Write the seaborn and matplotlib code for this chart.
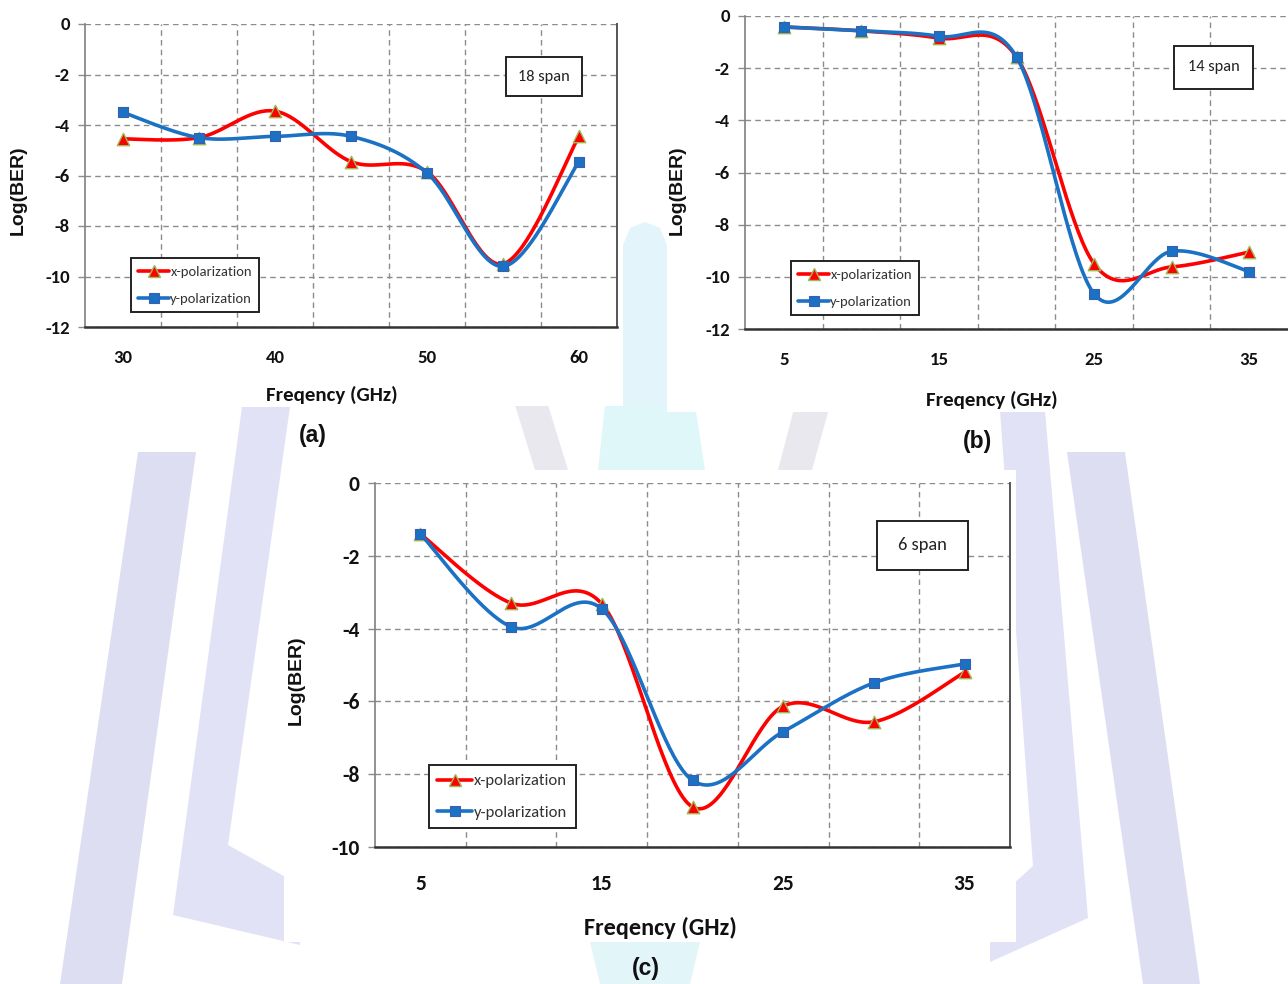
import numpy as np
import pandas as pd
import seaborn as sns
import matplotlib.pyplot as plt
from matplotlib.lines import Line2D
from matplotlib.patches import Rectangle, Polygon

# ---- data ----
freq_a = [30, 35, 40, 45, 50, 55, 60]
xpol_a = [-4.55, -4.5, -3.45, -5.45, -5.85, -9.5, -4.45]
ypol_a = [-3.5, -4.5, -4.45, -4.45, -5.9, -9.6, -5.45]

freq_b = [5, 10, 15, 20, 25, 30, 35]
xpol_b = [-0.42, -0.57, -0.85, -1.57, -9.5, -9.62, -9.05]
ypol_b = [-0.42, -0.57, -0.78, -1.57, -10.65, -9.02, -9.8]

freq_c = [5, 10, 15, 20, 25, 30, 35]
xpol_c = [-1.4, -3.3, -3.32, -8.9, -6.13, -6.56, -5.2]
ypol_c = [-1.4, -3.95, -3.46, -8.17, -6.83, -5.49, -4.97]

xticks_a = [30, 40, 50, 60]
xticks_bc = [5, 15, 25, 35]
yticks_ab = [0, -2, -4, -6, -8, -10, -12]
yticks_c = [0, -2, -4, -6, -8, -10]
span_labels = ["18 span", "14 span", "6 span"]
series_names = ["x-polarization", "y-polarization"]

RED = "#ff0000"
OLIVE = "#9bbb59"
BLUE = "#1b72c4"
BLUE_EDGE = "#3a5fb0"
GRID = "#8c8c8c"

NARROW = ["Carlito", "DejaVu Sans"]
ARIAL = ["Liberation Sans", "DejaVu Sans"]

W, H = 1288, 984

sns.set_theme(style="white")
plt.rcParams["axes.unicode_minus"] = False
plt.rcParams["font.family"] = ARIAL


def excel_smooth(xs, ys, n=40):
    """Bezier smoothing like Excel's 'smoothed line' option."""
    p = np.column_stack([xs, ys]).astype(float)
    ext = np.vstack([p[0], p, p[-1]])
    out = []
    t = np.linspace(0, 1, n)[:, None]
    for i in range(len(p) - 1):
        p0, p1, p2, p3 = ext[i], ext[i + 1], ext[i + 2], ext[i + 3]
        c1 = p1 + (p2 - p0) / 6
        c2 = p2 - (p3 - p1) / 6
        seg = (1 - t) ** 3 * p1 + 3 * (1 - t) ** 2 * t * c1 + 3 * (1 - t) * t ** 2 * c2 + t ** 3 * p2
        out.append(seg if i == 0 else seg[1:])
    s = np.vstack(out)
    return pd.DataFrame({"f": s[:, 0], "v": s[:, 1]})


fig = plt.figure(figsize=(W / 100, H / 100), dpi=100)
fig.patch.set_facecolor("white")


def px_poly(pts, color, z=-10):
    xy = [(x / W, 1 - y / H) for x, y in pts]
    fig.patches.append(Polygon(xy, closed=True, transform=fig.transFigure,
                               facecolor=color, edgecolor="none", zorder=z))


# faint watermark behind the panels
LAV = "#dedef2"
px_poly([(138, 452), (196, 452), (122, 984), (60, 984)], LAV)
px_poly([(242, 407), (290, 407), (228, 845), (300, 885), (300, 945), (173, 915)], "#e2e2f7")
px_poly([(1067, 452), (1125, 452), (1200, 984), (1143, 984)], LAV)
px_poly([(1000, 411), (1045, 411), (1088, 918), (990, 962), (990, 905), (1033, 866)], "#e2e2f7")
px_poly([(623, 245), (630, 228), (645, 222), (660, 228), (667, 245), (667, 412), (623, 412)], "#e3f5fb")
px_poly([(605, 405), (695, 405), (705, 470), (598, 470)], "#e0f7fa")
px_poly([(515, 405), (548, 405), (568, 470), (535, 470)], "#e8e8ee")
px_poly([(795, 405), (830, 405), (812, 470), (778, 470)], "#e8e8ee")
px_poly([(590, 942), (700, 942), (690, 984), (600, 984)], "#e2f6f9")

# white panels
px_poly([(0, 0), (623, 0), (623, 406), (0, 406)], "white", z=-5)
px_poly([(667, 0), (1288, 0), (1288, 412), (667, 412)], "white", z=-5)
px_poly([(284, 470), (1016, 470), (1016, 942), (284, 942)], "white", z=-5)


def draw_panel(rect, freq, xpol, ypol, xlim, ylim, xticks, yticks, span, span_box,
               leg_anchor, fs_tick, fs_leg, fs_span, fs_xlab, xlab_pos, ylab_pos,
               right_spine=True):
    ax = fig.add_axes(rect)
    ax.set_facecolor("none")

    sns.lineplot(data=excel_smooth(freq, xpol), x="f", y="v", ax=ax, color=RED,
                 linewidth=2.6, sort=False, estimator=None, zorder=3)
    sns.scatterplot(x=freq, y=xpol, ax=ax, marker="^", s=80, color=RED,
                    edgecolor=OLIVE, linewidth=1, zorder=4, legend=False)
    sns.lineplot(data=excel_smooth(freq, ypol), x="f", y="v", ax=ax, color=BLUE,
                 linewidth=2.6, sort=False, estimator=None, zorder=5)
    sns.scatterplot(x=freq, y=ypol, ax=ax, marker="s", s=62, color=BLUE,
                    edgecolor=BLUE_EDGE, linewidth=0.8, zorder=6, legend=False)

    ax.set_xlim(*xlim)
    ax.set_ylim(*ylim)
    ax.set_xticks(xticks)
    ax.set_xticks(np.arange(xlim[0] + 5, xlim[1], 5), minor=True)
    ax.set_yticks(yticks)
    ax.set_xticklabels([str(v) for v in xticks])
    ax.set_yticklabels([f"{v:g}" for v in yticks])
    for lab in ax.get_xticklabels() + ax.get_yticklabels():
        lab.set_fontfamily(NARROW)
        lab.set_fontweight("bold")
        lab.set_fontsize(fs_tick)
        lab.set_color("#111111")
    ax.tick_params(axis="x", which="both", length=0, pad=fs_tick * 1.25)
    ax.tick_params(axis="y", which="major", length=5, width=1, color=GRID, pad=6, left=True)

    ax.grid(False)
    ax.grid(axis="y", which="major", color=GRID, linestyle=(0, (4, 3)), linewidth=1)
    ax.grid(axis="x", which="minor", color=GRID, linestyle=(0, (4, 3)), linewidth=1)

    ax.spines["top"].set_visible(False)
    ax.spines["left"].set_color("#7f7f7f")
    ax.spines["left"].set_linewidth(1.2)
    ax.spines["bottom"].set_color("#333333")
    ax.spines["bottom"].set_linewidth(1.8)
    ax.spines["right"].set_visible(right_spine)
    ax.spines["right"].set_color("#555555")
    ax.spines["right"].set_linewidth(1.4)

    ax.set_xlabel("Freqency (GHz)", fontfamily=NARROW, fontweight="bold",
                  fontsize=fs_xlab, color="#111111", va="center")
    ax.xaxis.set_label_coords(*xlab_pos)
    ax.set_ylabel("Log(BER)", fontfamily=ARIAL, fontweight="bold",
                  fontsize=14, color="#111111", va="center")
    ax.yaxis.set_label_coords(*ylab_pos)

    x0, y0, w, h = span_box
    ax.add_patch(Rectangle((x0, y0), w, h, transform=ax.transAxes, facecolor="white",
                           edgecolor="#222222", linewidth=1.4, zorder=7))
    ax.text(x0 + w / 2, y0 + h / 2, span, transform=ax.transAxes, ha="center",
            va="center", fontfamily=NARROW, fontsize=fs_span, color="#222222", zorder=8)

    handles = [
        Line2D([0], [0], color=RED, lw=2.6, marker="^", ms=8.5, mfc=RED, mec=OLIVE, mew=1),
        Line2D([0], [0], color=BLUE, lw=2.6, marker="s", ms=7.5, mfc=BLUE, mec=BLUE_EDGE, mew=0.8),
    ]
    leg = ax.legend(handles, series_names, loc="lower left", bbox_to_anchor=leg_anchor,
                    bbox_transform=ax.transAxes, borderaxespad=0, numpoints=1,
                    handlelength=2.1, handletextpad=0.1, labelspacing=1.0,
                    borderpad=0.5, fancybox=False, framealpha=1,
                    prop={"family": NARROW, "size": fs_leg})
    leg.get_frame().set_edgecolor("#222222")
    leg.get_frame().set_linewidth(1.4)
    leg.set_zorder(9)
    for t in leg.get_texts():
        t.set_color("#333333")
    return ax


draw_panel([85 / W, 1 - 327 / H, 532 / W, 303 / H], freq_a, xpol_a, ypol_a,
           (27.5, 62.5), (-12, 0), xticks_a, yticks_ab, span_labels[0],
           (0.791, 0.762, 0.143, 0.129), (0.0865, 0.0495), 13.5, 10.5, 11.8, 15,
           (0.464, -0.224), (-0.126, 0.452))

draw_panel([745 / W, 1 - 329 / H, 543 / W, 313 / H], freq_b, xpol_b, ypol_b,
           (2.5, 37.5), (-12, 0), xticks_bc, yticks_ab, span_labels[1],
           (0.790, 0.767, 0.1455, 0.137), (0.0847, 0.0447), 13.5, 10.5, 11.8, 15,
           (0.455, -0.227), (-0.125, 0.444), right_spine=False)

draw_panel([375 / W, 1 - 847 / H, 635 / W, 364 / H], freq_c, xpol_c, ypol_c,
           (2.5, 37.5), (-10, 0), xticks_bc, yticks_c, span_labels[2],
           (0.7906, 0.761, 0.1433, 0.1346), (0.085, 0.052), 15.5, 12, 13.3, 17.5,
           (0.45, -0.2225), (-0.124, 0.459))

for label, (px, py) in zip(["(a)", "(b)", "(c)"], [(313, 435), (977, 441), (646, 968)]):
    fig.text(px / W, 1 - py / H, label, ha="center", va="center", fontfamily=ARIAL,
             fontweight="bold", fontsize=16.5, color="#111111")

fig.savefig("out.png", dpi=100)
